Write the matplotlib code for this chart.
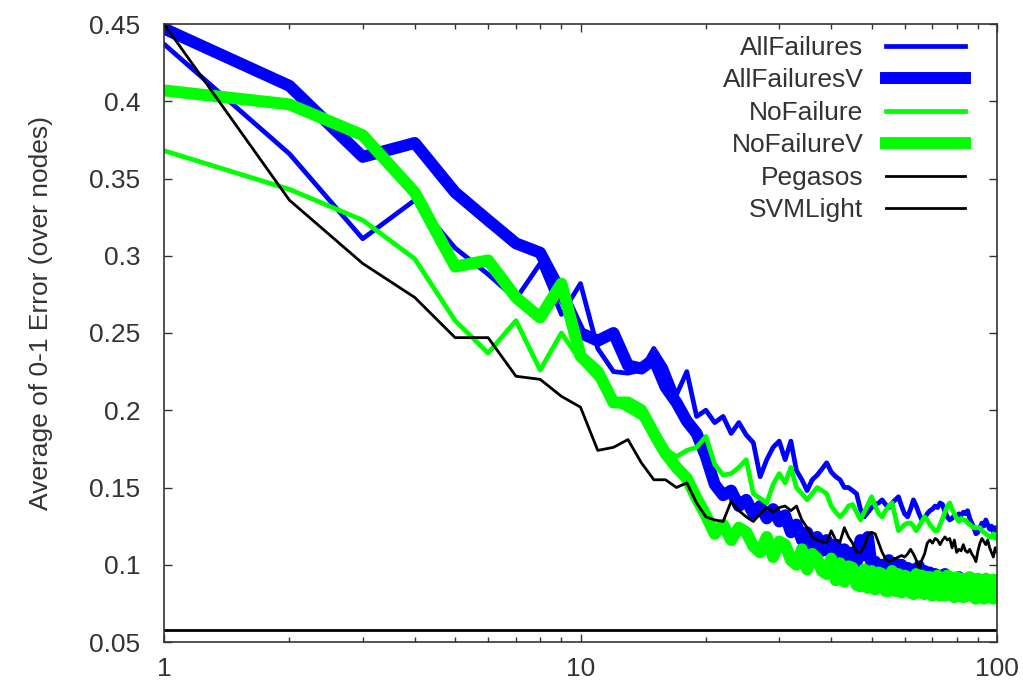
import matplotlib
matplotlib.use("Agg")
import matplotlib.pyplot as plt
from matplotlib.ticker import FixedLocator, FixedFormatter, LogLocator, NullFormatter

plt.rcParams['font.family'] = ['Liberation Sans', 'DejaVu Sans']

# x = 1 .. 100 (iterations)
x = list(range(1, 101))

all_failures = [
    0.437, 0.366, 0.311, 0.336, 0.305, 0.288, 0.272, 0.295, 0.262, 0.282,
    0.240, 0.225, 0.224, 0.226, 0.240, 0.228, 0.210, 0.225, 0.196, 0.200,
    0.192, 0.196, 0.185, 0.192, 0.184, 0.179, 0.157, 0.168, 0.176, 0.180,
    0.168, 0.180, 0.161, 0.155, 0.148, 0.155, 0.158, 0.162, 0.166, 0.160,
    0.157, 0.155, 0.150, 0.150, 0.148, 0.146, 0.136, 0.131, 0.134, 0.137,
    0.139, 0.140, 0.142, 0.139, 0.137, 0.140, 0.142, 0.144, 0.138, 0.133,
    0.131, 0.136, 0.142, 0.138, 0.133, 0.129, 0.130, 0.133, 0.135, 0.136,
    0.138, 0.137, 0.140, 0.139, 0.134, 0.131, 0.129, 0.130, 0.132, 0.131,
    0.133, 0.132, 0.134, 0.133, 0.135, 0.130, 0.127, 0.124, 0.120, 0.121,
    0.124, 0.127, 0.125, 0.129, 0.126, 0.123, 0.125, 0.121, 0.124, 0.123,
]

all_failures_v = [
    0.447, 0.410, 0.364, 0.373, 0.341, 0.323, 0.308, 0.302, 0.276, 0.250,
    0.245, 0.250, 0.229, 0.227, 0.233, 0.215, 0.205, 0.193, 0.185, 0.170,
    0.152, 0.145, 0.148, 0.138, 0.142, 0.133, 0.138, 0.130, 0.136, 0.128,
    0.132, 0.121, 0.126, 0.116, 0.121, 0.112, 0.118, 0.109, 0.116, 0.107,
    0.113, 0.104, 0.110, 0.102, 0.108, 0.101, 0.116, 0.106, 0.118, 0.099,
    0.102, 0.090, 0.100, 0.088, 0.103, 0.089, 0.101, 0.087, 0.100, 0.086,
    0.098, 0.085, 0.097, 0.086, 0.099, 0.084, 0.096, 0.085, 0.095, 0.083,
    0.094, 0.084, 0.093, 0.082, 0.094, 0.083, 0.092, 0.082, 0.091, 0.081,
    0.092, 0.082, 0.090, 0.080, 0.091, 0.081, 0.089, 0.080, 0.090, 0.079,
    0.089, 0.080, 0.088, 0.079, 0.089, 0.080, 0.088, 0.079, 0.087, 0.080,
]

no_failure = [
    0.368, 0.343, 0.323, 0.298, 0.258, 0.237, 0.258, 0.226, 0.250, 0.232,
    0.220, 0.205, 0.200, 0.195, 0.183, 0.175, 0.170, 0.174, 0.176, 0.183,
    0.165, 0.158, 0.159, 0.163, 0.168, 0.146, 0.143, 0.140, 0.152, 0.159,
    0.153, 0.163, 0.150, 0.146, 0.142, 0.146, 0.150, 0.148, 0.146, 0.138,
    0.134, 0.131, 0.134, 0.138, 0.139, 0.134, 0.129, 0.134, 0.139, 0.144,
    0.138, 0.133, 0.131, 0.135, 0.138, 0.140, 0.131, 0.122, 0.124, 0.126,
    0.127, 0.127, 0.125, 0.122, 0.125, 0.128, 0.131, 0.129, 0.126, 0.124,
    0.122, 0.122, 0.126, 0.130, 0.134, 0.138, 0.140, 0.136, 0.133, 0.130,
    0.128, 0.130, 0.129, 0.129, 0.127, 0.126, 0.125, 0.124, 0.124, 0.124,
    0.124, 0.122, 0.121, 0.120, 0.119, 0.118, 0.118, 0.120, 0.117, 0.118,
]

no_failure_v = [
    0.407, 0.398, 0.378, 0.341, 0.293, 0.297, 0.273, 0.260, 0.282, 0.235,
    0.225, 0.205, 0.205, 0.200, 0.185, 0.172, 0.163, 0.156, 0.143, 0.132,
    0.120, 0.126, 0.116, 0.124, 0.121, 0.112, 0.108, 0.118, 0.105, 0.115,
    0.113, 0.103, 0.100, 0.110, 0.097, 0.107, 0.104, 0.096, 0.094, 0.104,
    0.090, 0.101, 0.089, 0.099, 0.098, 0.087, 0.086, 0.097, 0.085, 0.096,
    0.084, 0.095, 0.094, 0.083, 0.083, 0.096, 0.083, 0.094, 0.082, 0.093,
    0.092, 0.082, 0.081, 0.094, 0.082, 0.093, 0.081, 0.092, 0.092, 0.080,
    0.081, 0.093, 0.080, 0.091, 0.080, 0.093, 0.092, 0.080, 0.079, 0.092,
    0.080, 0.091, 0.079, 0.090, 0.080, 0.092, 0.091, 0.079, 0.078, 0.091,
    0.079, 0.090, 0.078, 0.091, 0.079, 0.089, 0.090, 0.078, 0.079, 0.090,
]

pegasos = [
    0.450, 0.336, 0.295, 0.273, 0.247, 0.247, 0.222, 0.220, 0.209, 0.202,
    0.174, 0.176, 0.181, 0.166, 0.155, 0.155, 0.150, 0.153, 0.140, 0.131,
    0.129, 0.128, 0.141, 0.135, 0.131, 0.128, 0.133, 0.137, 0.134, 0.137,
    0.138, 0.135, 0.138, 0.129, 0.124, 0.118, 0.116, 0.115, 0.114, 0.122,
    0.116, 0.115, 0.124, 0.118, 0.114, 0.108, 0.108, 0.112, 0.119, 0.121,
    0.120, 0.114, 0.108, 0.104, 0.102, 0.103, 0.104, 0.105, 0.106, 0.105,
    0.107, 0.110, 0.107, 0.103, 0.098, 0.103, 0.107, 0.114, 0.116, 0.114,
    0.117, 0.116, 0.113, 0.116, 0.118, 0.116, 0.117, 0.111, 0.116, 0.108,
    0.110, 0.109, 0.113, 0.109, 0.108, 0.110, 0.107, 0.105, 0.102, 0.109,
    0.114, 0.117, 0.115, 0.113, 0.116, 0.111, 0.108, 0.105, 0.111, 0.108,
]

svmlight = 0.058

y_ticks = [0.05, 0.1, 0.15, 0.2, 0.25, 0.3, 0.35, 0.4, 0.45]
y_tick_labels = ["0.05", "0.1", "0.15", "0.2", "0.25", "0.3", "0.35", "0.4", "0.45"]
x_ticks = [1, 10, 100]
x_tick_labels = ["1", "10", "100"]

BLUE = "#0000ff"
GREEN = "#00ff00"
TEXT = "#333333"
FS = 19

fig = plt.figure(figsize=(10.23, 6.86), dpi=100)
ax = fig.add_axes([164 / 1023, 1 - 642 / 686, (997 - 164) / 1023, (642 - 24) / 686])

ax.plot(x, all_failures, color=BLUE, lw=3.4, label="AllFailures")
ax.plot(x, all_failures_v, color=BLUE, lw=8.6, label="AllFailuresV")
ax.plot(x, no_failure, color=GREEN, lw=3.4, label="NoFailure")
ax.plot(x, no_failure_v, color=GREEN, lw=8.6, label="NoFailureV")
ax.plot(x, pegasos, color="black", lw=2.0, label="Pegasos")
ax.axhline(svmlight, color="black", lw=2.0, label="SVMLight")

ax.set_xscale("log")
ax.set_xlim(1, 100)
ax.set_ylim(0.05, 0.45)

ax.xaxis.set_major_locator(FixedLocator(x_ticks))
ax.xaxis.set_major_formatter(FixedFormatter(x_tick_labels))
ax.xaxis.set_minor_locator(LogLocator(base=10, subs=range(2, 10)))
ax.xaxis.set_minor_formatter(NullFormatter())
ax.yaxis.set_major_locator(FixedLocator(y_ticks))
ax.yaxis.set_major_formatter(FixedFormatter(y_tick_labels))

ax.tick_params(which="both", direction="in", top=True, right=True, color="#333333", width=1.0)
ax.tick_params(which="major", length=6)
ax.tick_params(which="minor", length=3.5)
ax.tick_params(axis="y", which="major", pad=17, labelsize=FS, labelcolor=TEXT)
ax.tick_params(axis="x", which="major", pad=11, labelsize=FS, labelcolor=TEXT)

for s in ax.spines.values():
    s.set_color("#333333")
    s.set_linewidth(1.2)

ax.set_ylabel("Average of 0-1 Error (over nodes)", fontsize=FS, color=TEXT)
ax.yaxis.set_label_coords(-0.133, 0.533)

leg = ax.legend(loc="upper right", bbox_to_anchor=(965 / 1023, 1 - 36 / 686),
                bbox_transform=fig.transFigure, frameon=False, markerfirst=False,
                fontsize=FS, handlelength=3.0, handletextpad=0.85,
                labelspacing=0.32, borderpad=0, borderaxespad=0)
for t in leg.get_texts():
    t.set_color(TEXT)

fig.savefig("out.png", dpi=100)
